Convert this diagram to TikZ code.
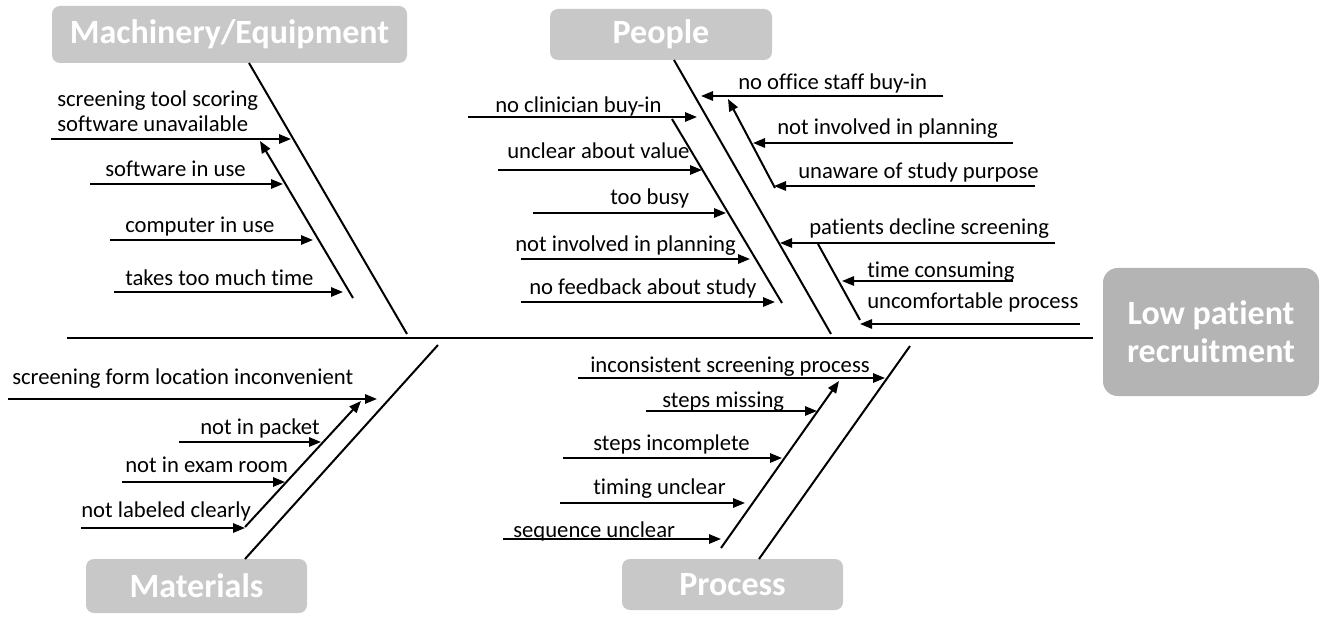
\documentclass[tikz,border=0pt]{standalone}
\usepackage{fontspec}
\setmainfont{Carlito}[Ligatures=NoCommon]
\usetikzlibrary{arrows.meta}
\definecolor{hdrgray}{RGB}{200,200,200}
\definecolor{effgray}{RGB}{180,180,180}
\begin{document}
\begin{tikzpicture}[x=0.75pt,y=-0.75pt,
  bone/.style={line width=1.5pt},
  cause/.style={line width=1.5pt,-{Triangle[length=9pt,width=7pt]}},
  lab/.style={anchor=base west,inner sep=0pt,font=\fontsize{17pt}{18.75pt}\selectfont},
  hdr/.style={fill=hdrgray,rounded corners=6pt,text=white,inner sep=0pt,
    font=\bfseries\fontsize{25.5pt}{28.5pt}\selectfont},
]
\useasboundingbox (0,0) rectangle (1327,620);

% category headers and the effect
\node[hdr,minimum width=266.25pt,minimum height=42.75pt] (mach) at (229.5,34.5) {Machinery/Equipment};
\node[hdr,minimum width=166.5pt,minimum height=38.25pt] (people) at (661,34.5) {People};
\node[hdr,minimum width=165.75pt,minimum height=40.5pt] (mat) at (196.5,586) {Materials};
\node[hdr,minimum width=165.75pt,minimum height=38.25pt] (proc) at (732.5,584.5) {Process};
\node[hdr,fill=effgray,rounded corners=11pt,align=center,minimum width=162pt,minimum height=96pt] (eff) at (1211,332) {Low patient\\recruitment};

% spine
\coordinate (spL) at (67,338);
\coordinate (spR) at (1093,338);
\draw[bone] (spL) -- (spR);

% ---------- Machinery/Equipment ----------
\coordinate (mT) at (249,63); \coordinate (mB) at (407,334);
\draw[bone] (mT) -- (mB);
\coordinate (msB) at (353,298); \coordinate (msT) at (260,141);
\draw[cause] (msB) -- (msT);
\coordinate (m1a) at (51,139);  \coordinate (m1b) at (291,139);
\coordinate (m2a) at (90,184);  \coordinate (m2b) at (283,184);
\coordinate (m3a) at (110,240); \coordinate (m3b) at (313,240);
\coordinate (m4a) at (114,292); \coordinate (m4b) at (343,292);
\draw[cause] (m1a) -- (m1b);
\draw[cause] (m2a) -- (m2b);
\draw[cause] (m3a) -- (m3b);
\draw[cause] (m4a) -- (m4b);
\node[lab,anchor=west,align=left] (m1t) at (57,111) {screening tool scoring\\software unavailable};
\node[lab] (m2t) at (105,177) {software in use};
\node[lab] (m3t) at (125,233) {computer in use};
\node[lab] (m4t) at (125,286) {takes too much time};

% ---------- People ----------
\coordinate (pT) at (674,60); \coordinate (pB) at (831,334);
\draw[bone] (pT) -- (pB);
% clinicians
\coordinate (psT) at (672,119); \coordinate (psB) at (782,303);
\draw[bone] (psT) -- (psB);
\coordinate (p1a) at (468,117); \coordinate (p1b) at (697,117);
\coordinate (p2a) at (498,170); \coordinate (p2b) at (702,170);
\coordinate (p3a) at (533,213); \coordinate (p3b) at (726,213);
\coordinate (p4a) at (521,259); \coordinate (p4b) at (750,259);
\coordinate (p5a) at (521,302); \coordinate (p5b) at (775,302);
\draw[cause] (p1a) -- (p1b);
\draw[cause] (p2a) -- (p2b);
\draw[cause] (p3a) -- (p3b);
\draw[cause] (p4a) -- (p4b);
\draw[cause] (p5a) -- (p5b);
\node[lab] (p1t) at (495,113) {no clinician buy-in};
\node[lab] (p2t) at (507,159) {unclear about value};
\node[lab] (p3t) at (610,205) {too busy};
\node[lab] (p4t) at (515,252) {not involved in planning};
\node[lab] (p5t) at (529,294) {no feedback about study};
% office staff
\coordinate (qsB) at (775,188); \coordinate (qsT) at (728,99);
\draw[cause] (qsB) -- (qsT);
\coordinate (q1a) at (943,96);  \coordinate (q1b) at (701,96);
\coordinate (q2a) at (1013,143); \coordinate (q2b) at (753,143);
\coordinate (q3a) at (1035,186); \coordinate (q3b) at (774,186);
\draw[cause] (q1a) -- (q1b);
\draw[cause] (q2a) -- (q2b);
\draw[cause] (q3a) -- (q3b);
\node[lab] (q1t) at (738,90) {no office staff buy-in};
\node[lab] (q2t) at (777,135) {not involved in planning};
\node[lab] (q3t) at (798,179) {unaware of study purpose};
% patients
\coordinate (q4a) at (1055,243); \coordinate (q4b) at (780,243);
\draw[cause] (q4a) -- (q4b);
\coordinate (rsT) at (818,244); \coordinate (rsB) at (860,320);
\draw[bone] (rsT) -- (rsB);
\coordinate (q5a) at (1013,281); \coordinate (q5b) at (842,281);
\coordinate (q6a) at (1080,324); \coordinate (q6b) at (860,324);
\draw[cause] (q5a) -- (q5b);
\draw[cause] (q6a) -- (q6b);
\node[lab] (q4t) at (809,235) {patients decline screening};
\node[lab] (q5t) at (867,277) {time consuming};
\node[lab] (q6t) at (867,308) {uncomfortable process};

% ---------- Materials ----------
\coordinate (aT) at (438,345); \coordinate (aB) at (245,559);
\draw[bone] (aT) -- (aB);
\coordinate (asB) at (245,527); \coordinate (asT) at (361,401);
\draw[cause] (asB) -- (asT);
\coordinate (a1a) at (8,399);   \coordinate (a1b) at (377,399);
\coordinate (a2a) at (179,442); \coordinate (a2b) at (321,442);
\coordinate (a3a) at (122,482); \coordinate (a3b) at (285,482);
\coordinate (a4a) at (81,528);  \coordinate (a4b) at (245,528);
\draw[cause] (a1a) -- (a1b);
\draw[cause] (a2a) -- (a2b);
\draw[cause] (a3a) -- (a3b);
\draw[cause] (a4a) -- (a4b);
\node[lab] (a1t) at (12,384) {screening form location inconvenient};
\node[lab] (a2t) at (200,434) {not in packet};
\node[lab] (a3t) at (125,472) {not in exam room};
\node[lab] (a4t) at (81,517) {not labeled clearly};

% ---------- Process ----------
\coordinate (sT) at (910,346); \coordinate (sB) at (759,559);
\draw[bone] (sT) -- (sB);
\coordinate (ssB) at (721,548); \coordinate (ssT) at (839,381);
\draw[cause] (ssB) -- (ssT);
\coordinate (s1a) at (578,378); \coordinate (s1b) at (885,378);
\coordinate (s2a) at (646,411); \coordinate (s2b) at (817,411);
\coordinate (s3a) at (563,458); \coordinate (s3b) at (782,458);
\coordinate (s4a) at (560,503); \coordinate (s4b) at (745,503);
\coordinate (s5a) at (503,539); \coordinate (s5b) at (721,539);
\draw[cause] (s1a) -- (s1b);
\draw[cause] (s2a) -- (s2b);
\draw[cause] (s3a) -- (s3b);
\draw[cause] (s4a) -- (s4b);
\draw[cause] (s5a) -- (s5b);
\node[lab] (s1t) at (590,372) {inconsistent screening process};
\node[lab] (s2t) at (662,407) {steps missing};
\node[lab] (s3t) at (593,450) {steps incomplete};
\node[lab] (s4t) at (593,494) {timing unclear};
\node[lab] (s5t) at (513,537) {sequence unclear};
\end{tikzpicture}
\end{document}
